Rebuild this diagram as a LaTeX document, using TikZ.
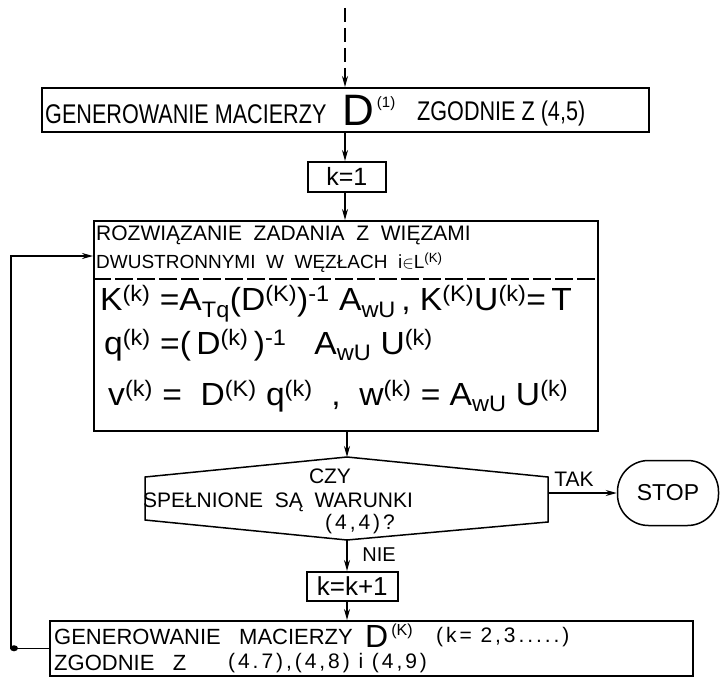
\documentclass[tikz,border=0pt]{standalone}
\usepackage{fontspec}
\setmainfont{Liberation Sans}[FakeStretch=0.8]
\newfontfamily\plainfont{Liberation Sans}
\newfontfamily\widefont{Liberation Sans}[LetterSpace=14]
\newfontfamily\formfont{Liberation Sans}[FakeStretch=1.05]
\usetikzlibrary{arrows.meta,calc}
\newcommand\fsz[1]{\fontsize{#1}{#1}\selectfont}
\newcommand\hi[1]{\textsuperscript{#1}}
\newcommand\lo[1]{\textsubscript{#1}}
\tikzset{
  ln/.style={line width=1.5pt},
  arr/.style={ln,-{Stealth[length=11pt,width=6pt]}},
  boxs/.style={draw,line width=1.5pt,inner sep=0pt,anchor=north west},
  txt/.style={inner sep=0pt,anchor=west},
}
\begin{document}
\begin{tikzpicture}[x=1pt,y=-1pt]
\useasboundingbox (0,0) rectangle (720,677);
% boxes
\node[boxs,minimum width=607pt,minimum height=44pt] (b1) at (41,87) {};
\node[boxs,minimum width=78pt,minimum height=30pt] (k1) at (307,161) {};
\node[boxs,minimum width=504pt,minimum height=210pt] (b3) at (93,220) {};
\node[boxs,minimum width=91pt,minimum height=29pt] (kk) at (306,571) {};
\node[boxs,minimum width=643pt,minimum height=55pt] (b5) at (49,620) {};
\node[draw,line width=1.5pt,rounded corners=31pt,minimum width=101pt,minimum height=65pt,inner sep=0pt] (stop) at (668,493) {};
% decision
\coordinate (dt) at (347,457);
\coordinate (db) at (347,540);
\coordinate (dr) at (548,493);
\draw[ln] (145,477) -- (dt) -- (548,477) -- (548,522) -- (db) -- (145,520) -- cycle;
% top dashed arrow
\coordinate (start) at (345,8);
\draw[arr,dash pattern=on 14pt off 6pt] (start) -- (b1.north -| start);
% texts box1
\node[txt] (t1) at (45,114) {\fsz{27}GENEROWANIE MACIERZY};
\node[txt,anchor=base west] (t1d) at (342,125) {\plainfont\fsz{44}D\hspace{3pt}\raisebox{18pt}{\fsz{15}(1)}};
\node[txt] (t1b) at (417,114) {\fsz{27}ZGODNIE Z (4,5)};
% k=1
\node (tk1) at (k1.center) {\plainfont\fsz{25}k=1};
% box3
\node[txt] (r1) at (96,235) {\plainfont\fsz{21}ROZWIĄZANIE\ \ ZADANIA\ \ Z\ \ WIĘZAMI};
\node[txt] (r2) at (96,263) {\plainfont\fsz{19}DWUSTRONNYMI\ \ W\ \ WĘZŁACH\ \ i$\in$L\hi{(K)}};
\draw[line width=1.2pt,dash pattern=on 18pt off 4pt] (b3.west |- 0,279) -- (b3.east |- 0,279);
\node[txt] (f1) at (100,304) {\formfont\fsz{32}K\hi{(k)} =A\lo{Tq}(D\hi{(K)})\hi{-1} A\lo{wU}\,, K\hi{(K)}U\hi{(k)}=\,T};
\node[txt] (f2) at (104,345) {\formfont\fsz{32}q\hi{(k)} =(\,D\hi{(k)}\,)\hi{-1}\ \ \ A\lo{wU}\ U\hi{(k)}};
\node[txt] (f3) at (108,396) {\formfont\fsz{32}v\hi{(k)} =\ \ D\hi{(K)} q\hi{(k)}\ \ ,\ \ w\hi{(k)}\ = A\lo{wU}\ U\hi{(k)}};
% decision texts
\node (c1) at (330,476) {\plainfont\fsz{21}CZY};
\node (c2) at (278,502) {\plainfont\fsz{21}SPEŁNIONE\ \ SĄ\ \ WARUNKI};
\node (c3) at (360,524) {\widefont\fsz{21}(4,4)?};
\node (tak) at (574,479) {\plainfont\fsz{21}TAK};
\node (st) at (stop.center) {\plainfont\fsz{23}STOP};
\node (nie) at (379,555) {\plainfont\fsz{20}NIE};
\node (tkk) at (kk.center) {\plainfont\fsz{26}k=k+1};
% bottom box
\node[txt] (g1) at (54,637) {\plainfont\fsz{22}GENEROWANIE\ \ \ MACIERZY};
\node[txt,anchor=base west] (g1d) at (365,647) {\plainfont\fsz{32}D\hspace{3pt}\raisebox{12pt}{\fsz{16}(K)}};
\node[txt] (g1k) at (436,637) {\widefont\fsz{21}(k= 2,3.....)};
\node[txt] (g2) at (54,663) {\plainfont\fsz{22}ZGODNIE\ \ \ Z};
\node[txt] (g2b) at (228,663) {\widefont\fsz{21}(4.7),(4,8) i (4,9)};
% connectors
\draw[arr] (b1.south -| start) -- (k1.north -| start);
\draw[arr] (k1.south -| start) -- (b3.north -| start);
\draw[arr] (b3.south -| dt) -- (dt);
\draw[arr] (dr) -- (stop.west);
\draw[arr] (db) -- (kk.north -| db);
\draw[arr] (kk.south -| db) -- (b5.north -| db);
\coordinate (loopin) at (93,256);
\draw[arr] (b5.west) -- ++(-38,0) |- (loopin);
\fill (b5.west) ++(-35,0) ellipse (4pt and 3pt);
\end{tikzpicture}
\end{document}
